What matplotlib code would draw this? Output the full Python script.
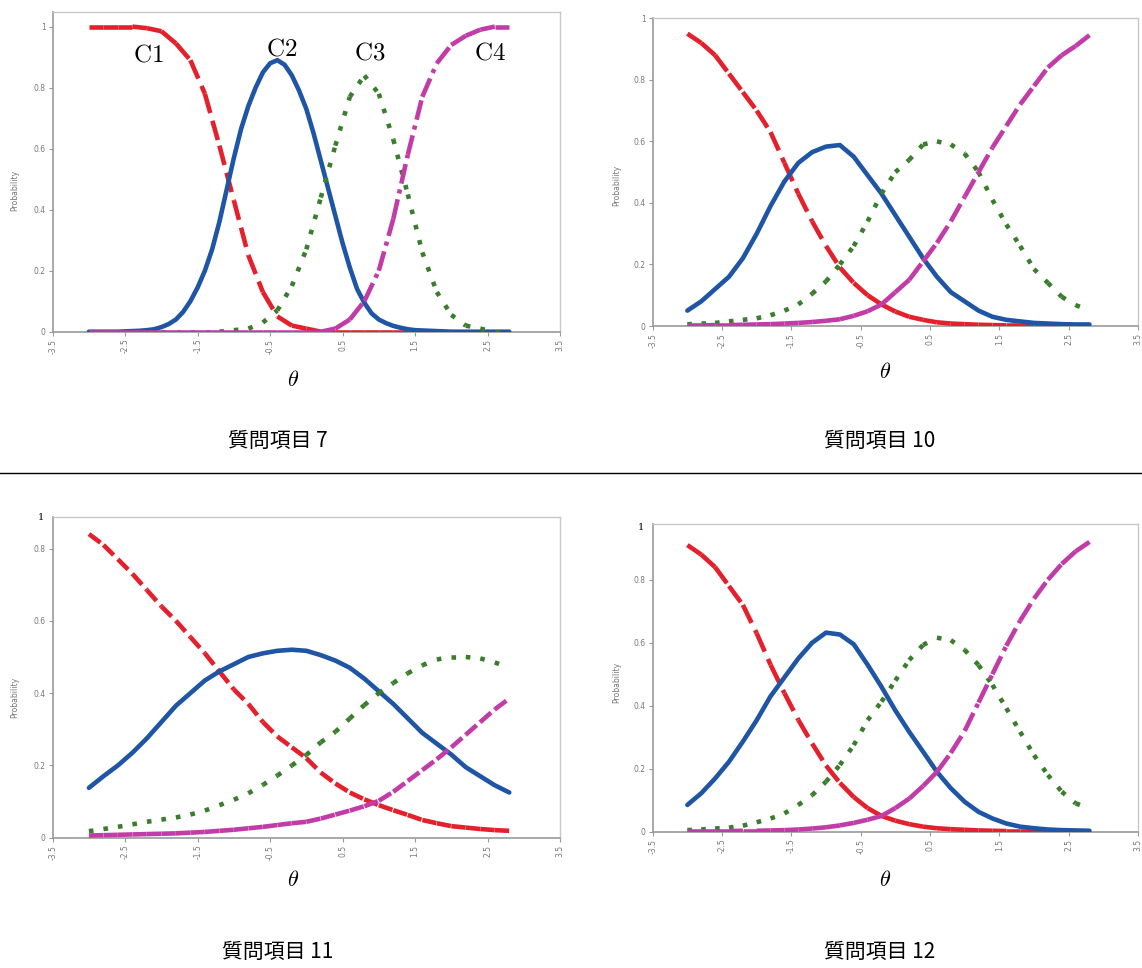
import numpy as np
import matplotlib
matplotlib.use('Agg')
import matplotlib.pyplot as plt
from matplotlib.collections import LineCollection
from matplotlib.lines import Line2D

plt.rcParams['lines.scale_dashes'] = False
plt.rcParams['mathtext.fontset'] = 'cm'
plt.rcParams['font.family'] = ['DejaVu Sans']

W, H = 1142, 968

# ---------------- data ----------------
theta = [-3.0, -2.8, -2.6, -2.4, -2.2, -2.0, -1.8, -1.6, -1.4, -1.2,
         -1.0, -0.8, -0.6, -0.4, -0.2, 0.0, 0.2, 0.4, 0.6, 0.8,
         1.0, 1.2, 1.4, 1.6, 1.8, 2.0, 2.2, 2.4, 2.6, 2.8]

# finer reading of the narrow C2 peak of item 7
theta_fine = [-3.0, -2.9, -2.8, -2.7, -2.6, -2.5, -2.4, -2.3, -2.2, -2.1,
              -2.0, -1.9, -1.8, -1.7, -1.6, -1.5, -1.4, -1.3, -1.2, -1.1,
              -1.0, -0.9, -0.8, -0.7, -0.6, -0.5, -0.4, -0.3, -0.2, -0.1,
              0.0, 0.1, 0.2, 0.3, 0.4, 0.5, 0.6, 0.7, 0.8, 0.9,
              1.0, 1.1, 1.2, 1.3, 1.4, 1.5, 1.6, 1.7, 1.8, 1.9,
              2.0, 2.1, 2.2, 2.3, 2.4, 2.5, 2.6, 2.7, 2.8]

xtick_values = [-3.5, -2.5, -1.5, -0.5, 0.5, 1.5, 2.5, 3.5]
xtick_labels = ['-3.5', '-2.5', '-1.5', '-0.5', '0.5', '1.5', '2.5', '3.5']
ytick_values = [0, 0.2, 0.4, 0.6, 0.8, 1.0]
ytick_labels = ['0', '0.2', '0.4', '0.6', '0.8', '1']

category_names = ['C1', 'C2', 'C3', 'C4']
item_titles = ['質問項目 7', '質問項目 10', '質問項目 11', '質問項目 12']

item7_c1 = [1.00, 1.00, 1.00, 1.00, 0.995, 0.985, 0.945, 0.89, 0.78, 0.61,
            0.43, 0.25, 0.13, 0.05, 0.02, 0.01, 0.0, 0.0, 0.0, 0.0,
            0.0, 0.0, 0.0, 0.0, 0.0, 0.0, 0.0, 0.0, 0.0, 0.0]
item7_c2 = [0.0, 0.0, 0.0, 0.0, 0.0, 0.001, 0.002, 0.003, 0.005, 0.008,
            0.015, 0.025, 0.04, 0.065, 0.10, 0.145, 0.20, 0.27, 0.36, 0.465,
            0.57, 0.665, 0.74, 0.80, 0.85, 0.88, 0.89, 0.875, 0.84, 0.79,
            0.73, 0.65, 0.56, 0.47, 0.38, 0.29, 0.21, 0.14, 0.095, 0.06,
            0.04, 0.028, 0.019, 0.013, 0.008, 0.005, 0.004, 0.003, 0.002, 0.001,
            0.0, 0.0, 0.0, 0.0, 0.0, 0.0, 0.0, 0.0, 0.0]
item7_c3 = [0.0, 0.0, 0.0, 0.0, 0.0, 0.0, 0.0, 0.0, 0.0, 0.0,
            0.005, 0.01, 0.03, 0.07, 0.15, 0.27, 0.44, 0.61, 0.77, 0.84,
            0.78, 0.63, 0.45, 0.26, 0.13, 0.055, 0.02, 0.01, 0.0, 0.0]
item7_c4 = [0.0, 0.0, 0.0, 0.0, 0.0, 0.0, 0.0, 0.0, 0.0, 0.0,
            0.0, 0.0, 0.0, 0.0, 0.0, 0.0, 0.0, 0.01, 0.04, 0.10,
            0.20, 0.37, 0.58, 0.77, 0.88, 0.94, 0.97, 0.99, 1.0, 1.0]

item10_c1 = [0.95, 0.92, 0.88, 0.82, 0.76, 0.70, 0.63, 0.53, 0.43, 0.34,
             0.26, 0.19, 0.14, 0.10, 0.07, 0.047, 0.03, 0.02, 0.012, 0.008,
             0.006, 0.004, 0.003, 0.002, 0.002, 0.001, 0.001, 0.001, 0.001, 0.001]
item10_c2 = [0.05, 0.08, 0.12, 0.16, 0.22, 0.30, 0.39, 0.47, 0.53, 0.565,
             0.583, 0.588, 0.55, 0.49, 0.43, 0.36, 0.29, 0.22, 0.16, 0.11,
             0.08, 0.05, 0.03, 0.02, 0.015, 0.01, 0.008, 0.006, 0.005, 0.005]
item10_c3 = [0.005, 0.01, 0.01, 0.015, 0.02, 0.025, 0.035, 0.05, 0.07, 0.105,
             0.145, 0.20, 0.26, 0.34, 0.43, 0.50, 0.54, 0.59, 0.60, 0.59,
             0.56, 0.50, 0.41, 0.33, 0.26, 0.185, 0.14, 0.095, 0.068, 0.05]
item10_c4 = [0.002, 0.002, 0.003, 0.003, 0.004, 0.005, 0.006, 0.008, 0.01, 0.013,
             0.017, 0.022, 0.033, 0.048, 0.07, 0.11, 0.15, 0.21, 0.27, 0.34,
             0.42, 0.50, 0.58, 0.65, 0.72, 0.78, 0.84, 0.88, 0.91, 0.945]

item11_c1 = [0.84, 0.81, 0.77, 0.73, 0.685, 0.64, 0.60, 0.555, 0.51, 0.46,
             0.41, 0.37, 0.32, 0.28, 0.25, 0.22, 0.18, 0.15, 0.125, 0.106,
             0.09, 0.076, 0.063, 0.049, 0.04, 0.032, 0.028, 0.024, 0.021, 0.019]
item11_c2 = [0.138, 0.17, 0.20, 0.235, 0.275, 0.32, 0.365, 0.40, 0.435, 0.46,
             0.48, 0.50, 0.51, 0.517, 0.52, 0.517, 0.505, 0.49, 0.47, 0.44,
             0.405, 0.37, 0.33, 0.29, 0.26, 0.23, 0.195, 0.17, 0.145, 0.125]
item11_c3 = [0.018, 0.024, 0.03, 0.037, 0.044, 0.05, 0.056, 0.064, 0.075, 0.09,
             0.105, 0.123, 0.146, 0.172, 0.20, 0.229, 0.264, 0.293, 0.33, 0.367,
             0.40, 0.428, 0.455, 0.477, 0.493, 0.50, 0.50, 0.496, 0.485, 0.47]
item11_c4 = [0.006, 0.007, 0.008, 0.009, 0.01, 0.011, 0.012, 0.014, 0.016, 0.019,
             0.022, 0.026, 0.03, 0.035, 0.04, 0.044, 0.053, 0.064, 0.075, 0.087,
             0.102, 0.127, 0.157, 0.187, 0.217, 0.25, 0.285, 0.32, 0.355, 0.385]

item12_c1 = [0.91, 0.88, 0.84, 0.78, 0.72, 0.63, 0.53, 0.44, 0.355, 0.28,
             0.21, 0.155, 0.11, 0.075, 0.05, 0.035, 0.024, 0.016, 0.011, 0.008,
             0.006, 0.004, 0.003, 0.002, 0.002, 0.002, 0.001, 0.001, 0.001, 0.001]
item12_c2 = [0.085, 0.122, 0.169, 0.222, 0.286, 0.354, 0.43, 0.49, 0.55, 0.60,
             0.632, 0.626, 0.595, 0.53, 0.46, 0.385, 0.317, 0.254, 0.19, 0.138,
             0.095, 0.063, 0.042, 0.026, 0.016, 0.011, 0.007, 0.005, 0.004, 0.003]
item12_c3 = [0.005, 0.007, 0.01, 0.013, 0.019, 0.03, 0.042, 0.058, 0.085, 0.116,
             0.159, 0.212, 0.275, 0.354, 0.413, 0.48, 0.545, 0.593, 0.616, 0.608,
             0.577, 0.529, 0.466, 0.392, 0.317, 0.243, 0.18, 0.127, 0.09, 0.074]
item12_c4 = [0.002, 0.002, 0.002, 0.002, 0.003, 0.003, 0.004, 0.005, 0.007, 0.01,
             0.014, 0.02, 0.028, 0.038, 0.05, 0.075, 0.105, 0.145, 0.19, 0.25,
             0.32, 0.41, 0.50, 0.59, 0.67, 0.74, 0.80, 0.85, 0.89, 0.92]

items = [
    [item7_c1, item7_c2, item7_c3, item7_c4],
    [item10_c1, item10_c2, item10_c3, item10_c4],
    [item11_c1, item11_c2, item11_c3, item11_c4],
    [item12_c1, item12_c2, item12_c3, item12_c4],
]

# ---------------- styling ----------------
colors = ['#E3202C', '#1F55A5', '#3A7D2C', '#C23CA8']
LW = 3.3
dash_scale = [1.0, 1.0, 0.72, 1.0]   # the pasted panels were resized differently


def styles_for(s):
    return [
        (0, (14.4 * s, 5.8 * s)),                     # C1 dashed
        'solid',                                      # C2 solid
        (0, (3.3, 8.0)),                              # C3 dotted
        (0, (14.4 * s, 4.3 * s, 3.0 * s, 4.3 * s)),   # C4 dash-dot
    ]


draw_order = [0, 2, 1, 3]

# axes boxes in pixels: (left, top, right, bottom(y=0)), ylim top
boxes = [
    ((52.7, 12.0, 560.0, 331.7), 1.048),
    ((652.7, 18.3, 1138.0, 326.0), 1.0),
    ((52.7, 516.7, 560.0, 837.7), 0.888),
    ((652.7, 524.3, 1138.0, 831.7), 0.976),
]
theta_pos = [(293, 380), (885, 372), (293, 880), (885, 880)]
title_pos = [(278, 441), (880, 441), (278, 952), (880, 952)]
ylab_pos = [(15, 190), (617, 185), (15, 697), (617, 682)]
extra_one = [None, None, (41, 517), (641, 528)]


def fx(x):
    return x / W


def fy(y):
    return 1 - y / H


fig = plt.figure(figsize=(W / 100, H / 100), dpi=100)
fig.patch.set_facecolor('white')

for k in range(4):
    (l, t, r, b), ytop = boxes[k]
    ax = fig.add_axes([fx(l), fy(b), (r - l) / W, (b - t) / H])
    styles = styles_for(dash_scale[k])
    for ci in draw_order:
        y = items[k][ci]
        xs = theta_fine if len(y) == len(theta_fine) else theta
        if styles[ci] == 'solid':
            ax.plot(xs, y, color=colors[ci], lw=LW, solid_joinstyle='round',
                    solid_capstyle='round', zorder=3 + ci)
        else:
            pts = np.column_stack([xs, y])
            segs = np.stack([pts[:-1], pts[1:]], axis=1)
            lc = LineCollection(segs, colors=colors[ci], linewidths=LW,
                                linestyles=[styles[ci]], capstyle='butt',
                                joinstyle='round', zorder=3 + ci)
            ax.add_collection(lc)
    ax.set_xticks(xtick_values)
    ax.set_xticklabels(xtick_labels, rotation=90, fontsize=5.5, color='#777777')
    yt = [(v, s) for v, s in zip(ytick_values, ytick_labels) if v <= ytop + 1e-9]
    ax.set_yticks([v for v, s in yt])
    ax.set_yticklabels([s for v, s in yt], fontsize=5.5, color='#777777')
    ax.set_xlim(-3.5, 3.5)
    ax.set_ylim(0, ytop)
    ax.tick_params(axis='both', direction='out', length=3, width=0.8,
                   color='#999999', pad=2)
    for side in ['left', 'bottom']:
        ax.spines[side].set_color('#9a9a9a')
        ax.spines[side].set_linewidth(1.2)
    for side in ['top', 'right']:
        ax.spines[side].set_color('#c8c8c8')
        ax.spines[side].set_linewidth(1.0)
    ax.set_facecolor('white')

    fig.text(fx(ylab_pos[k][0]), fy(ylab_pos[k][1]), 'Probability', rotation=90,
             fontsize=5.5, color='#777777', ha='center', va='center')
    fig.text(fx(theta_pos[k][0]), fy(theta_pos[k][1]), r'$\theta$',
             fontsize=16, ha='center', va='center', color='black')
    fig.text(fx(title_pos[k][0]), fy(title_pos[k][1]), item_titles[k],
             fontsize=15, ha='center', va='center', color='black',
             family=['Noto Sans CJK JP', 'DejaVu Sans'])
    if extra_one[k] is not None:
        fig.text(fx(extra_one[k][0]), fy(extra_one[k][1]), '1', fontsize=7,
                 ha='center', va='center', color='black', family='DejaVu Serif')

    if k == 0:
        label_pos = [(148, 55), (282, 48), (370, 53), (490, 52)]
        for name, (px, py) in zip(category_names, label_pos):
            fig.text(fx(px), fy(py), r'$\mathrm{' + name + '}$', fontsize=18,
                     ha='center', va='center', color='black', zorder=10)

# separator line
fig.add_artist(Line2D([0, 1], [fy(473), fy(473)], color='black', lw=1.0))

fig.savefig('out.png', dpi=100, facecolor='white')
